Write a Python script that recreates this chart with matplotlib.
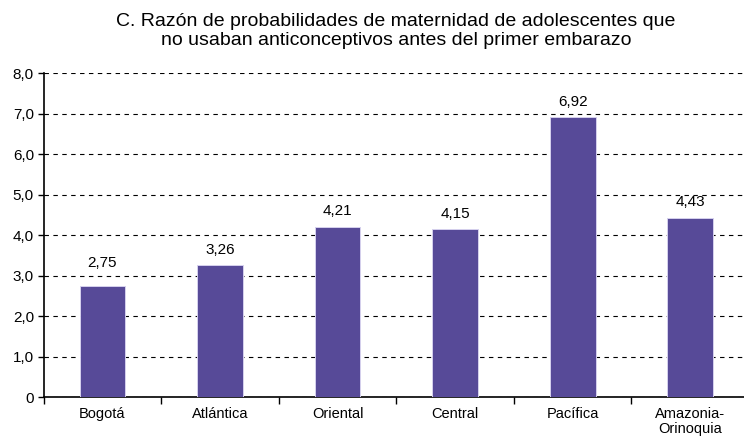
import numpy as np
import matplotlib.pyplot as plt

plt.rcParams['font.family'] = ['Liberation Sans', 'DejaVu Sans']

# data
regiones = ["Bogotá", "Atlántica", "Oriental", "Central", "Pacífica", "Amazonia-\nOrinoquia"]
razon = [2.75, 3.26, 4.21, 4.15, 6.92, 4.43]
etiquetas = ["2,75", "3,26", "4,21", "4,15", "6,92", "4,43"]
yticks = [0, 1, 2, 3, 4, 5, 6, 7, 8]
ytick_labels = ["0", "1,0", "2,0", "3,0", "4,0", "5,0", "6,0", "7,0", "8,0"]

fig = plt.figure(figsize=(7.44, 4.38), dpi=100)
ax = fig.add_axes([0.0587, 0.0936, 0.948, 0.7397])

x = np.arange(len(regiones))
ax.bar(x, razon, width=0.39, color="#574a98", edgecolor="#d6d1ee", linewidth=0.7, zorder=3)

# etiquetas de valor, subidas si chocan con una linea de la grilla
for xi, v, lab in zip(x, razon, etiquetas):
    ybot = v + 0.2
    for g in yticks:
        if ybot < g < ybot + 0.3:
            ybot = g + 0.14
    ax.text(xi, ybot, lab, ha="center", va="bottom", fontsize=11)

ax.set_xlim(-0.5, len(regiones) - 0.5)
ax.set_ylim(0, 8)
ax.set_yticks(yticks)
ax.set_yticklabels(ytick_labels, fontsize=11)
ax.set_xticks(x)
ax.set_xticklabels(regiones, fontsize=10.5, linespacing=1.15)
ax.tick_params(axis="x", length=0, pad=7)
ax.set_xticks(np.arange(-0.5, len(regiones), 1), minor=True)
ax.tick_params(axis="x", which="minor", length=5, direction="out", width=1)
ax.tick_params(axis="y", length=4, width=1, pad=3)

ax.grid(axis="y", linestyle=(0, (4, 4)), color="black", linewidth=0.8, zorder=0)
for s in ["top", "right"]:
    ax.spines[s].set_visible(False)
ax.spines["left"].set_linewidth(1.2)
ax.spines["bottom"].set_linewidth(1.2)

fig.text(0.532, 0.97, "C. Razón de probabilidades de maternidad de adolescentes que\nno usaban anticonceptivos antes del primer embarazo",
         ha="center", va="top", fontsize=14, linespacing=1.15)

plt.savefig("out.png", dpi=100)
